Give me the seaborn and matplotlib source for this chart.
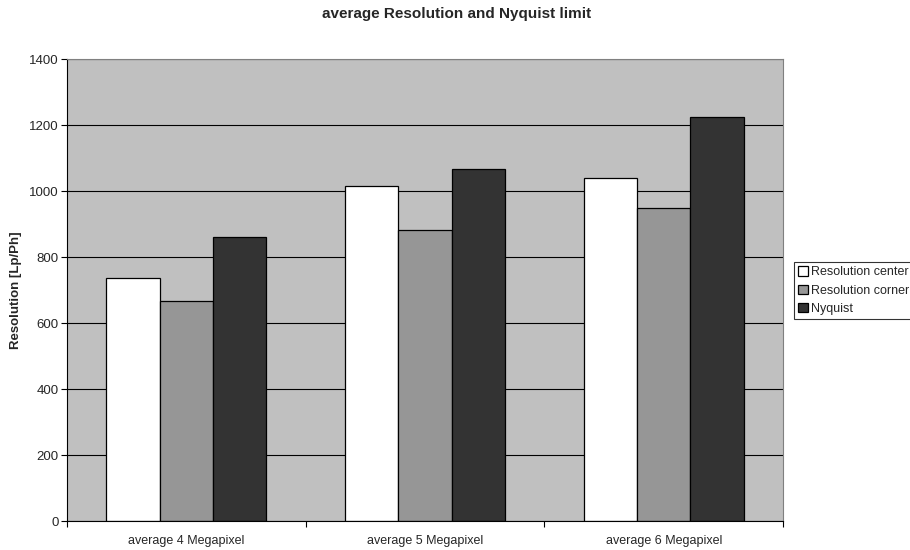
import pandas as pd
import matplotlib
matplotlib.use("Agg")
import matplotlib.pyplot as plt
import seaborn as sns

# Valeurs
categories = ["average 4 Megapixel", "average 5 Megapixel", "average 6 Megapixel"]
series = ["Resolution center", "Resolution corner", "Nyquist"]
res_center = [735, 1016, 1039]
res_corner = [667, 881, 949]
nyquist = [860, 1068, 1223]
colors = ["#FFFFFF", "#969696", "#333333"]
y_ticks = [0, 200, 400, 600, 800, 1000, 1200, 1400]

df = pd.DataFrame({
    "category": categories * 3,
    "value": res_center + res_corner + nyquist,
    "series": [s for s in series for _ in categories],
})

sns.set_style("white")
plt.rcParams["font.family"] = ["Liberation Sans", "DejaVu Sans"]

fig = plt.figure(figsize=(9.1, 5.5), dpi=100)
ax = fig.add_axes([0.0736, 0.0527, 0.787, 0.84])
ax.set_facecolor("#C0C0C0")

sns.barplot(data=df, x="category", y="value", hue="series", palette=colors,
            edgecolor="black", linewidth=0.9, width=0.67, gap=0, ax=ax,
            legend=True)

ax.set_ylim(0, 1400)
ax.set_xlim(-0.5, 2.5)
ax.set_yticks(y_ticks)
ax.tick_params(axis="y", labelsize=9.5, length=4, width=0.8, direction="out",
               left=True, color="black", pad=2)
ax.set_xticks([0, 1, 2])
ax.set_xticklabels(categories, fontsize=9)
ax.tick_params(axis="x", which="major", length=0, pad=10)
ax.set_xticks([-0.5, 0.5, 1.5, 2.5], minor=True)
ax.tick_params(axis="x", which="minor", length=4, width=0.8, direction="out",
               bottom=True, color="black")

ax.set_axisbelow(True)
ax.yaxis.grid(True, color="black", linewidth=0.8)
ax.xaxis.grid(False)

for side in ["top", "right"]:
    ax.spines[side].set_color("#808080")
    ax.spines[side].set_linewidth(0.8)
for side in ["left", "bottom"]:
    ax.spines[side].set_color("black")
    ax.spines[side].set_linewidth(0.8)

ax.set_xlabel("")
ax.set_ylabel("Resolution [Lp/Ph]", fontsize=9.5, fontweight="bold", labelpad=5)
fig.text(0.502, 0.9745, "average Resolution and Nyquist limit", fontsize=11,
         fontweight="bold", ha="center", va="center")

handles, labels = ax.get_legend_handles_labels()
ax.legend_.remove()
leg = fig.legend(handles, labels, loc="upper left", bbox_to_anchor=(0.872, 0.524),
                 fontsize=9, frameon=True, fancybox=False, edgecolor="black",
                 handlelength=0.8, handleheight=0.8, handletextpad=0.25,
                 borderpad=0.35, labelspacing=0.5, borderaxespad=0)
leg.get_frame().set_linewidth(0.8)

fig.savefig("out.png", dpi=100)
